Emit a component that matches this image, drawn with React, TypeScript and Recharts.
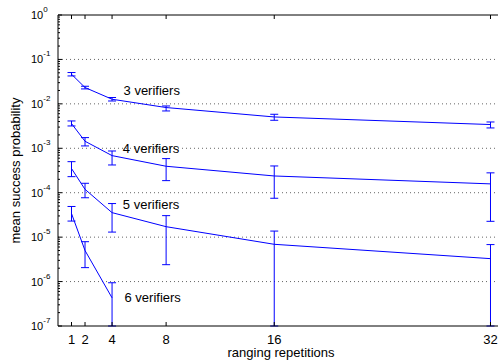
import React from 'react';
import {
  LineChart,
  Line,
  XAxis,
  YAxis,
  CartesianGrid,
  ErrorBar,
  ReferenceDot,
  Label,
} from 'recharts';

const FONT = '"Liberation Sans", Arial, Helvetica, sans-serif';
const BLUE = '#0000ff';

const repetitions = [1, 2, 4, 8, 16, 32];

// 3 verifiers
const mean3 = [0.0464, 0.0233, 0.0127, 0.00826, 0.00507, 0.00342];
const low3 = [0.0425, 0.0217, 0.0116, 0.00692, 0.00427, 0.00287];
const high3 = [0.0507, 0.0249, 0.0139, 0.00897, 0.00583, 0.00391];

// 4 verifiers
const mean4 = [0.0036, 0.00144, 0.000684, 0.000394, 0.000238, 0.000158];
const low4 = [0.00318, 0.00113, 0.000421, 0.000187, 0.000075, 0.0000227];
const high4 = [0.00412, 0.00174, 0.000869, 0.000586, 0.0004, 0.00028];

// 5 verifiers (last two lower bounds reach the bottom of the axis)
const mean5 = [0.00035, 0.000119, 0.0000356, 0.0000172, 0.0000069, 0.00000328];
const low5 = [0.00023, 0.000077, 0.000013, 0.0000024, 1e-7, 1e-7];
const high5 = [0.0005, 0.000163, 0.000057, 0.0000305, 0.0000137, 0.0000068];

// 6 verifiers
const mean6 = [0.000034, 0.000005, 0.00000043];
const low6 = [0.000023, 0.00000206, 1e-7];
const high6 = [0.000049, 0.0000079, 0.00000094];

const xTicks = [1, 2, 4, 8, 16, 32];
const decadeTicks = [1e-7, 1e-6, 1e-5, 1e-4, 1e-3, 1e-2, 1e-1, 1];
const decadeExponents = [-7, -6, -5, -4, -3, -2, -1, 0];
const minorSteps = [2, 3, 4, 5, 6, 7, 8, 9];
const gridValues = [1e-6, 1e-5, 1e-4, 1e-3, 1e-2, 1e-1];

const annotationNames = ['3 verifiers', '4 verifiers', '5 verifiers', '6 verifiers'];
const annotationX = [4.85, 4.8, 4.8, 4.92];
const annotationY = [0.02, 0.001, 0.000055, 0.00000045];

const series = [
  { key: 'v3', mean: mean3, low: low3, high: high3 },
  { key: 'v4', mean: mean4, low: low4, high: high4 },
  { key: 'v5', mean: mean5, low: low5, high: high5 },
  { key: 'v6', mean: mean6, low: low6, high: high6 },
];

const data = repetitions.map((reps, i) => {
  const row: Record<string, number | number[]> = { reps };
  series.forEach((s) => {
    if (i < s.mean.length) {
      row[s.key] = s.mean[i];
      row[s.key + 'Err'] = [s.mean[i] - s.low[i], s.high[i] - s.mean[i]];
    }
  });
  return row;
});

const yTicks = [
  ...decadeTicks,
  ...decadeTicks.slice(0, -1).flatMap((d) => minorSteps.map((m) => m * d)),
];

const YTick = (props: any) => {
  const { x, y, payload } = props;
  const idx = decadeTicks.indexOf(payload.value);
  const major = idx >= 0;
  return (
    <g>
      <line x1={x} x2={x + (major ? 4 : 2)} y1={y} y2={y} stroke="#000" />
      {major && (
        <text x={x - 27} y={y} dy={4} fontSize={11} fontFamily={FONT} fill="#000">
          10
          <tspan dy={-7} fontSize={8}>
            {decadeExponents[idx]}
          </tspan>
        </text>
      )}
    </g>
  );
};

const XTick = (props: any) => {
  const { x, y, payload } = props;
  return (
    <g>
      <line x1={x} x2={x} y1={y} y2={y - 4} stroke="#000" />
      <text x={x} y={y + 17.5} textAnchor="middle" fontSize={13} fontFamily={FONT} fill="#000">
        {payload.value}
      </text>
    </g>
  );
};

const TopTick = (props: any) => {
  const { x, y } = props;
  return <line x1={x} x2={x} y1={y} y2={y + 4} stroke="#000" />;
};

const XLabel = (props: any) => {
  const { x, y, width } = props.viewBox;
  return (
    <text x={x + width / 2} y={y + 31} textAnchor="middle" fontSize={13} fontFamily={FONT} fill="#000">
      ranging repetitions
    </text>
  );
};

const YLabel = (props: any) => {
  const { x, y, height } = props.viewBox;
  const cx = x + 15;
  const cy = y + height / 2;
  return (
    <text
      x={cx}
      y={cy}
      dy="0.35em"
      transform={`rotate(-90, ${cx}, ${cy})`}
      textAnchor="middle"
      fontSize={13}
      fontFamily={FONT}
      fill="#000"
    >
      mean success probability
    </text>
  );
};

export default function App() {
  // the axes box runs a little past the right edge of the figure, as in the original
  return (
    <div
      style={{
        position: 'absolute',
        left: 0,
        top: 0,
        width: 498,
        height: 364,
        overflow: 'hidden',
        background: '#fff',
      }}
    >
      <LineChart
        width={504}
        height={364}
        data={data}
        accessibilityLayer={false}
        style={{ outline: 'none', display: 'block' }}
        margin={{ top: 14, right: 0, bottom: 0, left: 0 }}
      >
        <CartesianGrid
          horizontal={true}
          vertical={false}
          horizontalValues={gridValues}
          stroke="#666"
          strokeDasharray="1 3"
        />
        <YAxis
          scale="log"
          type="number"
          domain={[1e-7, 1]}
          allowDataOverflow
          ticks={yTicks}
          interval={0}
          tickSize={0}
          tickMargin={0}
          tick={<YTick />}
          axisLine={{ stroke: '#000' }}
          width={58}
        >
          <Label content={<YLabel />} />
        </YAxis>
        {series.map((s) => (
          <Line
            key={s.key}
            dataKey={s.key}
            type="linear"
            stroke={BLUE}
            strokeWidth={1}
            dot={false}
            activeDot={false}
            isAnimationActive={false}
          >
            <ErrorBar
              dataKey={s.key + 'Err'}
              direction="y"
              width={4}
              stroke={BLUE}
              strokeWidth={1}
              isAnimationActive={false}
            />
          </Line>
        ))}
        {annotationNames.map((name, i) => (
          <ReferenceDot
            key={name}
            x={annotationX[i]}
            y={annotationY[i]}
            r={0}
            ifOverflow="visible"
            shape={(p: any) => (
              <text x={p.cx} y={p.cy} dy="0.35em" fontSize={13} fontFamily={FONT} fill="#000">
                {name}
              </text>
            )}
          />
        ))}
        <XAxis
          dataKey="reps"
          type="number"
          domain={[0, 33]}
          allowDataOverflow
          ticks={xTicks}
          interval={0}
          tickSize={0}
          tickMargin={0}
          tick={<XTick />}
          axisLine={{ stroke: '#000' }}
          height={38}
        >
          <Label content={<XLabel />} />
        </XAxis>
        <XAxis
          xAxisId="top"
          dataKey="reps"
          orientation="top"
          type="number"
          domain={[0, 33]}
          allowDataOverflow
          ticks={xTicks}
          interval={0}
          tickSize={0}
          tickMargin={0}
          tick={<TopTick />}
          axisLine={{ stroke: '#000' }}
          height={1}
        />
      </LineChart>
    </div>
  );
}
